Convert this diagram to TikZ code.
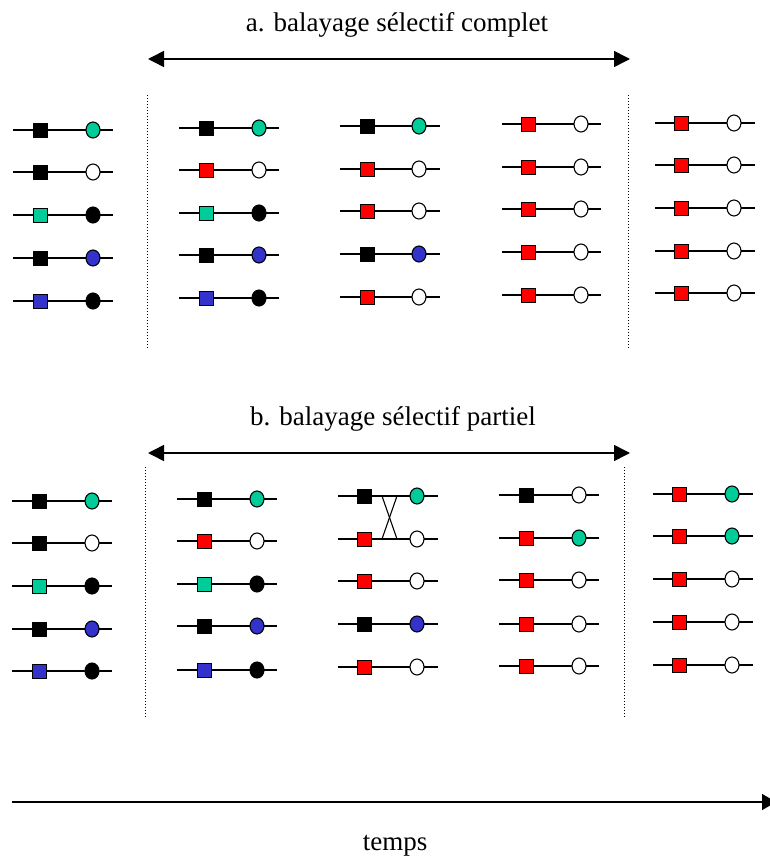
\documentclass[tikz,border=0pt]{standalone}
\usepackage{fontspec}
\setmainfont{Liberation Serif}
\usetikzlibrary{arrows.meta,shapes.geometric}
\definecolor{teal2}{RGB}{0,204,153}
\definecolor{blue2}{RGB}{51,51,204}
\definecolor{red2}{RGB}{255,0,0}
\tikzset{
  bond/.style={line width=1.5pt,black},
  sq/.style={draw=black,line width=0.9pt,minimum size=14pt,inner sep=0pt,outer sep=0pt},
  circ/.style={ellipse,draw=black,line width=1.1pt,minimum width=14pt,minimum height=16pt,inner sep=0pt,outer sep=0pt},
  sep/.style={dotted,line width=1pt},
  span/.style={line width=1.5pt,{Triangle[length=16pt,width=16pt]}-{Triangle[length=16pt,width=16pt]}},
  timeax/.style={line width=1.5pt,-{Triangle[length=14pt,width=16pt]}},
  lab/.style={font=\fontsize{27}{30}\selectfont,inner sep=0pt,anchor=base}
}
\newcommand\molec[8]{%
  \coordinate (#1-l) at (#2,#6);
  \coordinate (#1-r) at (#5,#6);
  \draw[bond] (#1-l) -- (#1-r);
  \node[sq,fill=#7] (#1-s) at (#3,#6) {};
  \node[circ,fill=#8] (#1-c) at (#4,#6) {};
}
\begin{document}
\begin{tikzpicture}[x=1pt,y=-1pt]
\useasboundingbox (0,0) rectangle (769,858);
% ---------- a ----------
\node[lab] (ta) at (397,32) {a. balayage sélectif complet};
\coordinate (a1) at (148,59);
\coordinate (a2) at (630,59);
\draw[span] (a1) -- (a2);
\coordinate (da1t) at (147,95); \coordinate (da1b) at (147,348);
\coordinate (da2t) at (628,95); \coordinate (da2b) at (628,348);
\draw[sep] (da1t) -- (da1b);
\draw[sep] (da2t) -- (da2b);
% col 1
\molec{a11}{13}{40}{93}{113}{130}{black}{teal2}
\molec{a12}{13}{40}{93}{113}{172}{black}{white}
\molec{a13}{13}{40}{93}{113}{215}{teal2}{black}
\molec{a14}{13}{40}{93}{113}{258}{black}{blue2}
\molec{a15}{13}{40}{93}{113}{301}{blue2}{black}
% col 2
\molec{a21}{179}{206}{259}{279}{128}{black}{teal2}
\molec{a22}{179}{206}{259}{279}{170}{red2}{white}
\molec{a23}{179}{206}{259}{279}{213}{teal2}{black}
\molec{a24}{179}{206}{259}{279}{255}{black}{blue2}
\molec{a25}{179}{206}{259}{279}{298}{blue2}{black}
% col 3
\molec{a31}{340}{367}{419}{440}{126}{black}{teal2}
\molec{a32}{340}{367}{419}{440}{169}{red2}{white}
\molec{a33}{340}{367}{419}{440}{211}{red2}{white}
\molec{a34}{340}{367}{419}{440}{254}{black}{blue2}
\molec{a35}{340}{367}{419}{440}{297}{red2}{white}
% col 4
\molec{a41}{502}{528}{581}{601}{124}{red2}{white}
\molec{a42}{502}{528}{581}{601}{167}{red2}{white}
\molec{a43}{502}{528}{581}{601}{209}{red2}{white}
\molec{a44}{502}{528}{581}{601}{252}{red2}{white}
\molec{a45}{502}{528}{581}{601}{295}{red2}{white}
% col 5
\molec{a51}{655}{681}{734}{755}{123}{red2}{white}
\molec{a52}{655}{681}{734}{755}{165}{red2}{white}
\molec{a53}{655}{681}{734}{755}{208}{red2}{white}
\molec{a54}{655}{681}{734}{755}{251}{red2}{white}
\molec{a55}{655}{681}{734}{755}{293}{red2}{white}
% ---------- b ----------
\node[lab] (tb) at (393,425) {b. balayage sélectif partiel};
\coordinate (b1) at (148,453);
\coordinate (b2) at (630,453);
\draw[span] (b1) -- (b2);
\coordinate (db1t) at (145,467); \coordinate (db1b) at (145,718);
\coordinate (db2t) at (624,467); \coordinate (db2b) at (624,718);
\draw[sep] (db1t) -- (db1b);
\draw[sep] (db2t) -- (db2b);
% col 1
\molec{b11}{12}{39}{92}{112}{501}{black}{teal2}
\molec{b12}{12}{39}{92}{112}{543}{black}{white}
\molec{b13}{12}{39}{92}{112}{586}{teal2}{black}
\molec{b14}{12}{39}{92}{112}{629}{black}{blue2}
\molec{b15}{12}{39}{92}{112}{671}{blue2}{black}
% col 2
\molec{b21}{177}{204}{257}{277}{499}{black}{teal2}
\molec{b22}{177}{204}{257}{277}{541}{red2}{white}
\molec{b23}{177}{204}{257}{277}{584}{teal2}{black}
\molec{b24}{177}{204}{257}{277}{626}{black}{blue2}
\molec{b25}{177}{204}{257}{277}{670}{blue2}{black}
% col 3
\molec{b31}{338}{364}{417}{438}{496}{black}{teal2}
\molec{b32}{338}{364}{417}{438}{539}{red2}{white}
\molec{b33}{338}{364}{417}{438}{581}{red2}{white}
\molec{b34}{338}{364}{417}{438}{624}{black}{blue2}
\molec{b35}{338}{364}{417}{438}{667}{red2}{white}
% cross-over
\coordinate (x1) at (382,496); \coordinate (x2) at (397,496);
\coordinate (x3) at (382,539); \coordinate (x4) at (397,539);
\draw[line width=1.1pt] (x1) -- (x4);
\draw[line width=1.1pt] (x2) -- (x3);
% col 4
\molec{b41}{499}{526}{579}{599}{495}{black}{white}
\molec{b42}{499}{526}{579}{599}{538}{red2}{teal2}
\molec{b43}{499}{526}{579}{599}{580}{red2}{white}
\molec{b44}{499}{526}{579}{599}{624}{red2}{white}
\molec{b45}{499}{526}{579}{599}{666}{red2}{white}
% col 5
\molec{b51}{653}{679}{732}{753}{494}{red2}{teal2}
\molec{b52}{653}{679}{732}{753}{536}{red2}{teal2}
\molec{b53}{653}{679}{732}{753}{579}{red2}{white}
\molec{b54}{653}{679}{732}{753}{622}{red2}{white}
\molec{b55}{653}{679}{732}{753}{665}{red2}{white}
% ---------- time axis ----------
\coordinate (t0) at (12,802);
\coordinate (t1) at (776,802);
\draw[timeax] (t0) -- (t1);
\node[lab] (tt) at (395,850) {temps};
\end{tikzpicture}
\end{document}
